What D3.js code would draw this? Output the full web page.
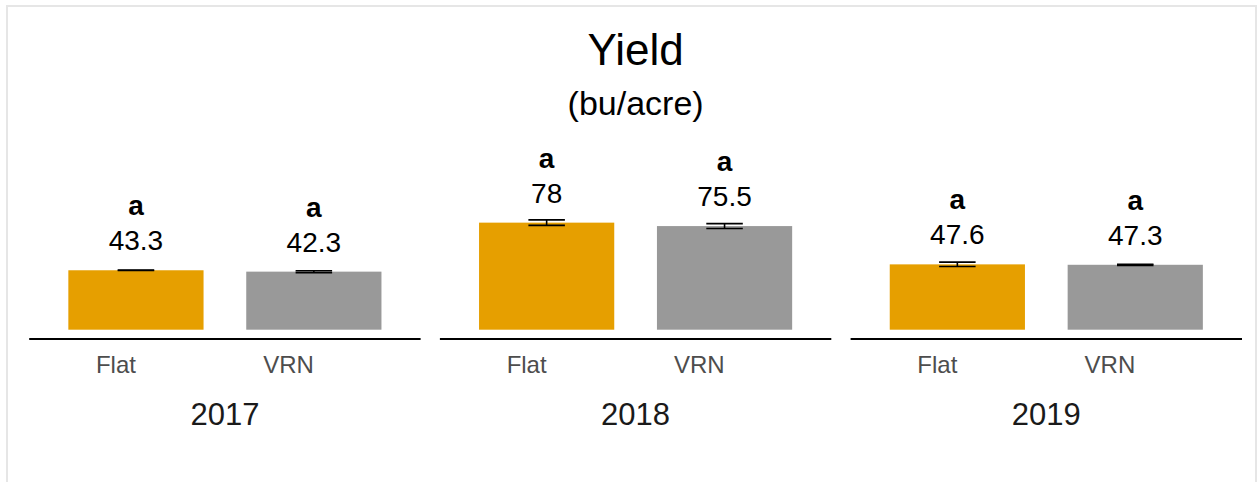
<!doctype html>
<html lang="en">
<head>
<meta charset="utf-8">
<title>Yield</title>
<style>
    html, body { margin: 0; padding: 0; background: #fff; }
    svg { display: block; }
    text { font-family: "Liberation Sans", Arial, Helvetica, sans-serif; }
</style>
</head>
<body>
<svg width="1257" height="482"></svg>
<script src="https://d3js.org/d3.v7.min.js"></script>
<script>
    // data
    var years = ["2017", "2018", "2019"];
    var treatments = ["Flat", "VRN"];
    var yieldFlat = [43.3, 78, 47.6];
    var yieldVRN = [42.3, 75.5, 47.3];
    var seFlat = [0.2, 2.0, 1.6];
    var seVRN = [0.7, 1.8, 0.4];
    var letterFlat = ["a", "a", "a"];
    var letterVRN = ["a", "a", "a"];
    var colors = ["#E69F00", "#999999"];

    var svg = d3.select("svg");

    // light panel frame
    svg.append("rect")
        .attr("x", 7).attr("y", 6)
        .attr("width", 1249).attr("height", 490)
        .attr("fill", "none")
        .attr("stroke", "#e6e6e6")
        .attr("stroke-width", 2);

    var panel = d3.scaleBand()
        .domain(years)
        .range([29.2, 1242])
        .paddingInner(0.047)
        .paddingOuter(0);

    var x = d3.scaleBand()
        .domain(treatments)
        .range([0, panel.bandwidth()])
        .paddingInner(0.24)
        .paddingOuter(0.22);

    var y = d3.scaleLinear()
        .domain([0, 80])
        .range([329.7, 219.9]);

    var color = d3.scaleOrdinal().domain(treatments).range(colors);

    // title
    svg.append("text")
        .attr("x", 635.6).attr("y", 65)
        .attr("text-anchor", "middle")
        .attr("font-size", 44)
        .text("Yield");
    svg.append("text")
        .attr("x", 635.6).attr("y", 115)
        .attr("text-anchor", "middle")
        .attr("font-size", 34)
        .text("(bu/acre)");

    var rows = years.map(function(yr, i) {
        return {
            year: yr,
            bars: [
                {trt: "Flat", v: yieldFlat[i], se: seFlat[i], letter: letterFlat[i]},
                {trt: "VRN", v: yieldVRN[i], se: seVRN[i], letter: letterVRN[i]}
            ]
        };
    });

    var g = svg.selectAll("g.panel")
        .data(rows)
        .enter().append("g")
        .attr("class", "panel")
        .attr("transform", function(d) { return "translate(" + panel(d.year) + ",0)"; });

    // bars
    g.selectAll("rect.bar")
        .data(function(d) { return d.bars; })
        .enter().append("rect")
        .attr("class", "bar")
        .attr("x", function(d) { return x(d.trt); })
        .attr("width", x.bandwidth())
        .attr("y", function(d) { return y(d.v); })
        .attr("height", function(d) { return y(0) - y(d.v); })
        .attr("fill", function(d) { return color(d.trt); });

    // error bars
    var capW = x.bandwidth() * 0.27;
    var eb = g.selectAll("g.err")
        .data(function(d) { return d.bars; })
        .enter().append("g")
        .attr("class", "err")
        .attr("stroke", "#000")
        .attr("stroke-width", 1.6);
    eb.append("line")
        .attr("x1", function(d) { return x(d.trt) + x.bandwidth() / 2; })
        .attr("x2", function(d) { return x(d.trt) + x.bandwidth() / 2; })
        .attr("y1", function(d) { return y(d.v - d.se); })
        .attr("y2", function(d) { return y(d.v + d.se); });
    [-1, 1].forEach(function(s) {
        eb.append("line")
            .attr("x1", function(d) { return x(d.trt) + x.bandwidth() / 2 - capW / 2; })
            .attr("x2", function(d) { return x(d.trt) + x.bandwidth() / 2 + capW / 2; })
            .attr("y1", function(d) { return y(d.v + s * d.se); })
            .attr("y2", function(d) { return y(d.v + s * d.se); });
    });

    // value labels
    g.selectAll("text.val")
        .data(function(d) { return d.bars; })
        .enter().append("text")
        .attr("class", "val")
        .attr("x", function(d) { return x(d.trt) + x.bandwidth() / 2; })
        .attr("y", function(d) { return y(d.v) - 20; })
        .attr("text-anchor", "middle")
        .attr("font-size", 28)
        .text(function(d) { return d.v; });

    g.selectAll("text.letter")
        .data(function(d) { return d.bars; })
        .enter().append("text")
        .attr("class", "letter")
        .attr("x", function(d) { return x(d.trt) + x.bandwidth() / 2; })
        .attr("y", function(d) { return y(d.v) - 55; })
        .attr("text-anchor", "middle")
        .attr("font-size", 28)
        .attr("font-weight", "bold")
        .text(function(d) { return d.letter; });

    // x axis per panel
    g.append("g")
        .attr("transform", "translate(0,339)")
        .each(function() {
            var ax = d3.select(this).call(d3.axisBottom(x).tickSize(0).tickPadding(0));
            ax.select(".domain").attr("stroke", "#000").attr("stroke-width", 2)
                .attr("d", "M0,0H" + panel.bandwidth());
            ax.selectAll(".tick text")
                .attr("font-family", "Liberation Sans, Arial, sans-serif")
                .attr("font-size", 24)
                .attr("fill", "#4d4d4d")
                .attr("text-anchor", "end")
                .attr("dy", 0)
                .attr("y", 34);
        });

    // year strip labels
    g.append("text")
        .attr("x", panel.bandwidth() / 2)
        .attr("y", 425)
        .attr("text-anchor", "middle")
        .attr("font-size", 31)
        .attr("fill", "#1a1a1a")
        .text(function(d) { return d.year; });
</script>
</body>
</html>
